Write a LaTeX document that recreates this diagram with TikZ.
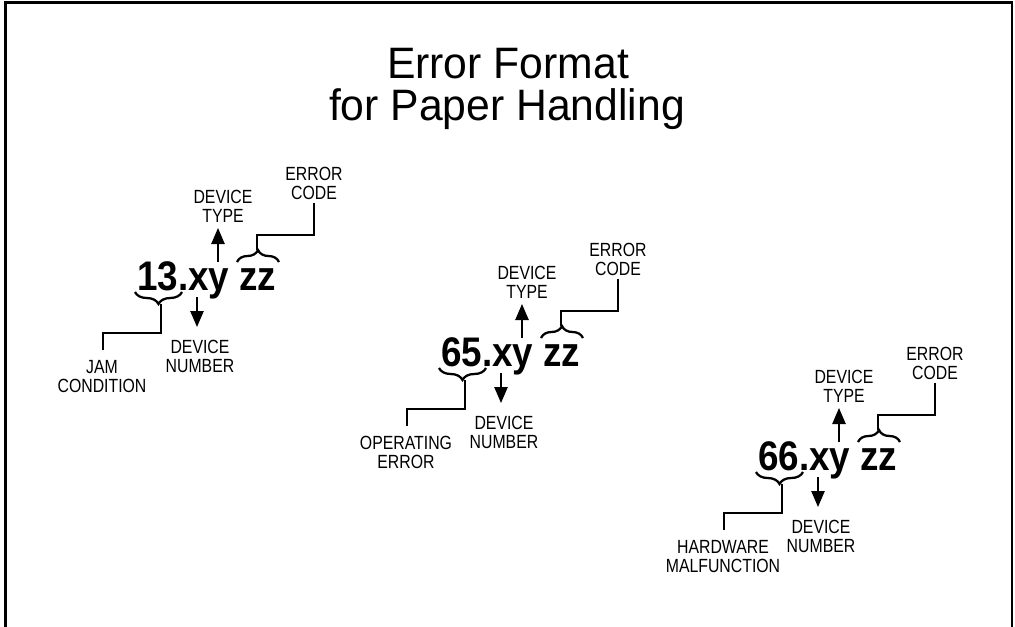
\documentclass[tikz,border=0pt]{standalone}
\usepackage{fontspec}
\setmainfont{Liberation Sans}
\newfontfamily\titlefont[FakeStretch=0.97]{Liberation Sans}
\newfontfamily\numfont[FakeStretch=0.89]{Liberation Sans}
\newfontfamily\lblfont[FakeStretch=0.83]{Liberation Sans}
\usetikzlibrary{arrows.meta,decorations.pathreplacing}
\tikzset{
  frameline/.style={line width=1.6pt, line cap=rect},
  titletext/.style={font=\titlefont\fontsize{33pt}{34pt}\selectfont, inner sep=0pt, anchor=base},
  bignum/.style={font=\numfont\bfseries\fontsize{31pt}{31pt}\selectfont, inner sep=0pt, anchor=base west},
  lbl/.style={font=\lblfont\fontsize{14.3pt}{14.25pt}\selectfont, inner sep=0pt, align=center},
  bracestyle/.style={decorate, decoration={brace, amplitude=9pt}, line width=1.7pt},
  conn/.style={line width=0.95pt},
  arr/.style={line width=1.1pt, -{Triangle[length=12pt, width=10pt]}},
}
\newcommand\errgroup[5]{%
  \begin{scope}[shift={(#2,#3)}]
    \node[bignum] (#1-num) at (137,290) {#4.xy zz};
    \coordinate (#1-nA) at (182,292);
    \coordinate (#1-nB) at (135,292);
    \coordinate (#1-zA) at (237,262);
    \coordinate (#1-zB) at (279,262);
    \draw[bracestyle] (#1-nA) -- (#1-nB);
    \draw[bracestyle] (#1-zA) -- (#1-zB);
    \coordinate (#1-ntip) at (161,304);
    \coordinate (#1-ztip) at (257,250);
    \node[lbl, anchor=south] (#1-type) at (223,223) {DEVICE\\TYPE};
    \node[lbl, anchor=south] (#1-code) at (314,200) {ERROR\\CODE};
    \node[lbl, anchor=north] (#1-dnum) at (200,340) {DEVICE\\NUMBER};
    \node[lbl, anchor=north] (#1-cls) at (102,360) {#5};
    \coordinate (#1-up) at (218,262);
    \coordinate (#1-uptip) at (218,228);
    \coordinate (#1-down) at (197,297);
    \coordinate (#1-downtip) at (197,327);
    \coordinate (#1-codeend) at (314,203);
    \coordinate (#1-clsend) at (103,350);
    \draw[arr] (#1-up) -- (#1-uptip);
    \draw[arr] (#1-down) -- (#1-downtip);
    \draw[conn] (#1-ztip) -- ++(0,-15) -| (#1-codeend);
    \draw[conn] (#1-ntip) -- ++(0,29) -| (#1-clsend);
  \end{scope}}
\begin{document}
\begin{tikzpicture}[x=0.75pt, y=-0.75pt]
  \useasboundingbox (0,0) rectangle (1015,626);
  \coordinate (fbl) at (5.5,630);
  \coordinate (ftl) at (5.5,2.5);
  \coordinate (ftr) at (1012,2.5);
  \coordinate (fbr) at (1012,630);
  \draw[frameline] (fbl) -- (ftl) -- (ftr) -- (fbr);
  \node[titletext] (title1) at (508,78) {Error Format};
  \node[titletext] (title2) at (507,120) {for Paper Handling};
  \errgroup{g1}{0}{0}{13}{JAM\\CONDITION}
  \errgroup{g2}{304}{76}{65}{OPERATING\\ERROR}
  \errgroup{g3}{621}{180}{66}{HARDWARE\\MALFUNCTION}
\end{tikzpicture}
\end{document}
